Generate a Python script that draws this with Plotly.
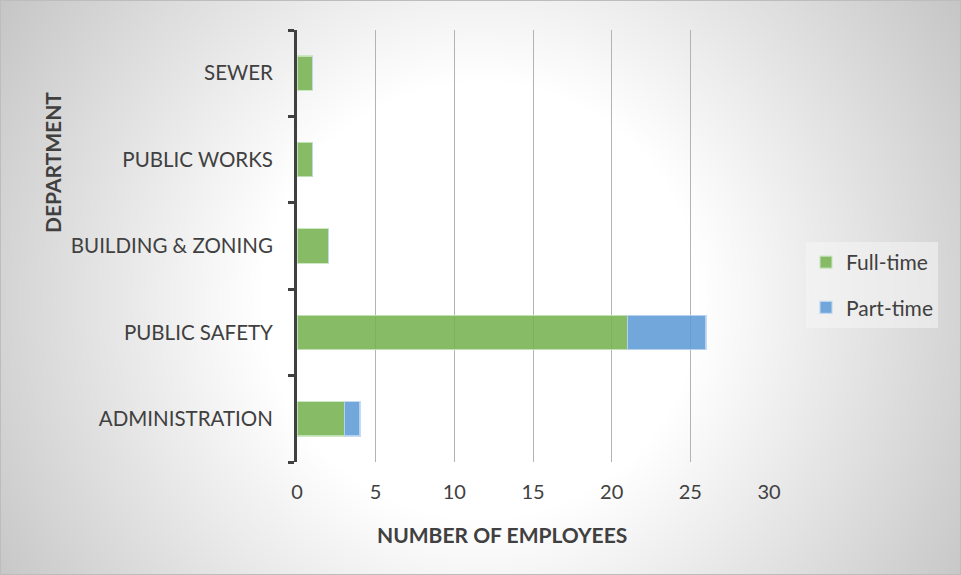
import base64, struct, zlib
import numpy as np
import plotly.graph_objects as go

departments = ["ADMINISTRATION", "PUBLIC SAFETY", "BUILDING & ZONING", "PUBLIC WORKS", "SEWER"]
full_time = [3, 21, 2, 1, 1]
part_time = [1, 5, 0, 0, 0]
x_ticks = [0, 5, 10, 15, 20, 25, 30]

W, H = 961, 575
ML, MR, MT, MB = 297, 192, 30, 113
PW, PH = W - ML - MR, H - MT - MB

# radial gradient background as PNG
yy, xx = np.mgrid[0:H, 0:W].astype(float)
d = np.sqrt((xx - 480) ** 2 + (yy - 300) ** 2)
g = 255 - np.clip(d - 220, 0, None) * 0.165
g = np.clip(g, 0, 255).astype(np.uint8)
raw = b"".join(b"\x00" + g[r].tobytes() for r in range(H))
def chunk(t, data):
    c = struct.pack(">I", len(data)) + t + data
    return c + struct.pack(">I", zlib.crc32(t + data) & 0xffffffff)
png = b"\x89PNG\r\n\x1a\n" + chunk(b"IHDR", struct.pack(">IIBBBBB", W, H, 8, 0, 0, 0, 0)) \
    + chunk(b"IDAT", zlib.compress(raw, 9)) + chunk(b"IEND", b"")
uri = "data:image/png;base64," + base64.b64encode(png).decode()

FONT = "Lato"
TXT = "#404040"

fig = go.Figure()
fig.add_trace(go.Bar(
    y=departments, x=full_time, name="Full-time", orientation="h", legendgroup="ft",
    marker=dict(color="rgba(118,178,80,0.88)", line=dict(color="rgba(200,230,190,0.9)", width=1.2)),
))
fig.add_trace(go.Bar(
    y=departments, x=part_time, name="Part-time", orientation="h", legendgroup="pt",
    marker=dict(color="rgba(95,155,215,0.88)", line=dict(color="rgba(190,215,240,0.9)", width=1.2)),
))

px0 = -ML / PW
py0 = 1 + MT / PH
def px(xpix):
    return (xpix - ML) / PW
def py(ypix):
    return (H - MB - ypix) / PH

fig.add_layout_image(dict(source=uri, xref="paper", yref="paper", x=px0, y=py0,
                          sizex=W / PW, sizey=H / PH, sizing="stretch",
                          xanchor="left", yanchor="top", layer="below"))
fig.add_shape(type="rect", xref="paper", yref="paper", x0=px0, x1=px0 + W / PW,
              y0=py0 - H / PH, y1=py0, line=dict(color="#bdbdbd", width=2), layer="above")

fig.update_layout(
    width=W, height=H,
    margin=dict(l=ML, r=MR, t=MT, b=MB),
    barmode="stack", bargap=0.6,
    paper_bgcolor="rgba(0,0,0,0)", plot_bgcolor="rgba(0,0,0,0)",
    font=dict(family=FONT, color=TXT, size=20),
    showlegend=True,
    legend=dict(x=px(806), y=py(242), xanchor="left", yanchor="top", traceorder="grouped",
                bgcolor="rgba(245,245,245,0.55)", font=dict(size=21, color=TXT),
                itemwidth=30, tracegroupgap=15),
    xaxis=dict(range=[0, 30], tickvals=x_ticks, showgrid=True, gridcolor="#b3b3b3",
               gridwidth=1.3, zeroline=False, showline=False, ticks="",
               ticklabelstandoff=16, tickfont=dict(size=20)),
    yaxis=dict(type="category", showline=True, linecolor="#404040", linewidth=3,
               ticks="outside", tickson="boundaries", ticklen=6, tickwidth=3,
               tickcolor="#404040", showgrid=False, ticklabelstandoff=17,
               tickfont=dict(size=20.5)),
)
fig.add_annotation(text="<b>NUMBER OF EMPLOYEES</b>", xref="paper", yref="paper",
                   x=px(502), y=py(534), xanchor="center", yanchor="middle",
                   showarrow=False, font=dict(size=21, color=TXT))
fig.add_annotation(text="<b>DEPARTMENT</b>", xref="paper", yref="paper",
                   x=px(52), y=py(163), xanchor="center", yanchor="middle", textangle=-90,
                   showarrow=False, font=dict(size=21, color=TXT))
fig.write_html("out.html")
